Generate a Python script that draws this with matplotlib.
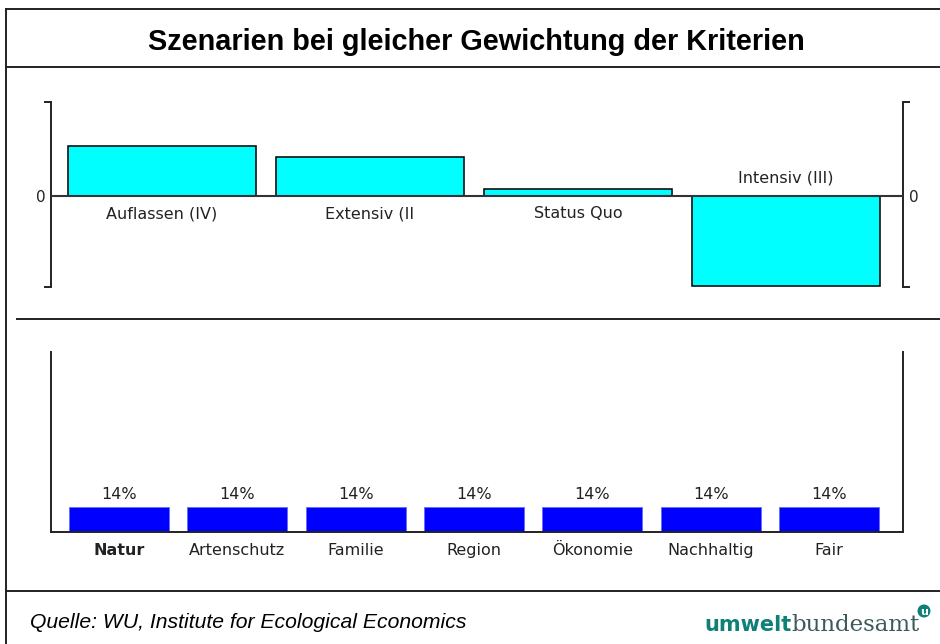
import numpy as np
import matplotlib.pyplot as plt
from matplotlib.lines import Line2D
from matplotlib.patches import Circle

# Daten
szenarien = ['Auflassen (IV)', 'Extensiv (II', 'Status Quo', 'Intensiv (III)']
szenario_werte = [0.53, 0.415, 0.075, -0.96]

kriterien = ['Natur', 'Artenschutz', 'Familie', 'Region', 'Ökonomie', 'Nachhaltig', 'Fair']
gewichte = [14, 14, 14, 14, 14, 14, 14]

W, H = 940, 644
fig = plt.figure(figsize=(W / 100, H / 100), dpi=100)
fig.patch.set_facecolor('white')


def fx(x):
    return x / W


def fy(y):
    return 1 - y / H


def hline(y, x0, x1, lw=1.4, color='#222222'):
    fig.add_artist(Line2D([fx(x0), fx(x1)], [fy(y), fy(y)], color=color, lw=lw))


# Rahmen
fig.add_artist(Line2D([fx(6), fx(6)], [fy(9), fy(644)], color='#222222', lw=1.4))
hline(9, 6, 940)
hline(67, 6, 940)
hline(319, 17, 940)
hline(591, 6, 940)

fig.text(fx(476), fy(42), 'Szenarien bei gleicher Gewichtung der Kriterien',
         ha='center', va='center', fontsize=20.8, fontweight='bold',
         family='Liberation Sans', color='black')

# ========== oberes Diagramm: Szenarien ==========
ax1 = fig.add_axes([fx(51), fy(287), (903 - 51) / W, (287 - 102) / H])
x1 = np.arange(len(szenarien))
ax1.bar(x1, szenario_werte, width=0.904, color='#00ffff', edgecolor='#111111', linewidth=1.2, zorder=2)
ax1.axhline(0, color='#333333', lw=1.5, zorder=3)
ax1.set_xlim(-0.534, 3.5625)
ax1.set_ylim(-0.97, 1.0)
for s in ['top', 'bottom']:
    ax1.spines[s].set_visible(False)
for s in ['left', 'right']:
    ax1.spines[s].set_linewidth(1.4)
    ax1.spines[s].set_color('#222222')
ax1.set_xticks([])
ax1.set_yticks([0])
ax1.set_yticklabels(['0'])
ax1.set_yticks([-0.97, 1.0], minor=True)
ax1.tick_params(axis='y', which='major', length=0, pad=4, labelsize=11,
                right=True, labelright=True, labelcolor='#222222')
ax1.tick_params(axis='y', which='minor', length=5, width=1.4, color='#222222', right=True)

for xi, name, v in zip(x1, szenarien, szenario_werte):
    off = -18 if v >= 0 else 18
    ax1.annotate(name, (xi, 0), xytext=(0, off), textcoords='offset pixels',
                 ha='center', va='center', fontsize=11.5, color='#222222')

# ========== unteres Diagramm: Gewichtung ==========
ax2 = fig.add_axes([fx(51), fy(532), (903 - 51) / W, (532 - 352) / H])
x2 = np.arange(len(kriterien))
ax2.bar(x2, gewichte, width=0.845, color='#0000ff', edgecolor='#6a6aff', linewidth=0.6, zorder=2)
ax2.set_xlim(-0.575, 6.626)
ax2.set_ylim(0, 100)
ax2.spines['top'].set_visible(False)
for s in ['left', 'right', 'bottom']:
    ax2.spines[s].set_linewidth(1.4)
    ax2.spines[s].set_color('#222222')
ax2.set_yticks([])
ax2.set_xticks(x2)
ax2.set_xticklabels(kriterien, fontsize=11.5, color='#222222')
ax2.get_xticklabels()[0].set_fontweight('bold')
ax2.tick_params(axis='x', length=0, pad=8)

for xi, v in zip(x2, gewichte):
    ax2.annotate(f'{v}%', (xi, v), xytext=(0, 12), textcoords='offset pixels',
                 ha='center', va='center', fontsize=11.5, color='#222222')

# ========== Fußzeile ==========
fig.text(fx(30), fy(623), 'Quelle: WU, Institute for Ecological Economics',
         ha='left', va='center', fontsize=15.2, style='italic',
         family='Liberation Sans', color='black')

t1 = fig.text(fx(704), fy(631), 'umwelt', ha='left', va='baseline', fontsize=15,
              fontweight='bold', family='DejaVu Sans', color='#0d8077')
t2 = fig.text(0, 0, 'bundesamt', ha='left', va='baseline', fontsize=16.5,
              family='DejaVu Serif', color='#3d5a5a')
fig.canvas.draw()
bb = t1.get_window_extent()
t2.set_position((bb.x1 / W, fy(631)))

# Logo-Kreis in Zoll-Koordinaten, damit er rund bleibt
fig.add_artist(Circle((924 / 100, (H - 611) / 100), 0.065, transform=fig.dpi_scale_trans,
                      facecolor='#0d8077', edgecolor='none'))
fig.text(fx(924), fy(612), 'u', ha='center', va='center', fontsize=8,
         fontweight='bold', color='white')

fig.savefig('out.png', dpi=100, facecolor='white')
